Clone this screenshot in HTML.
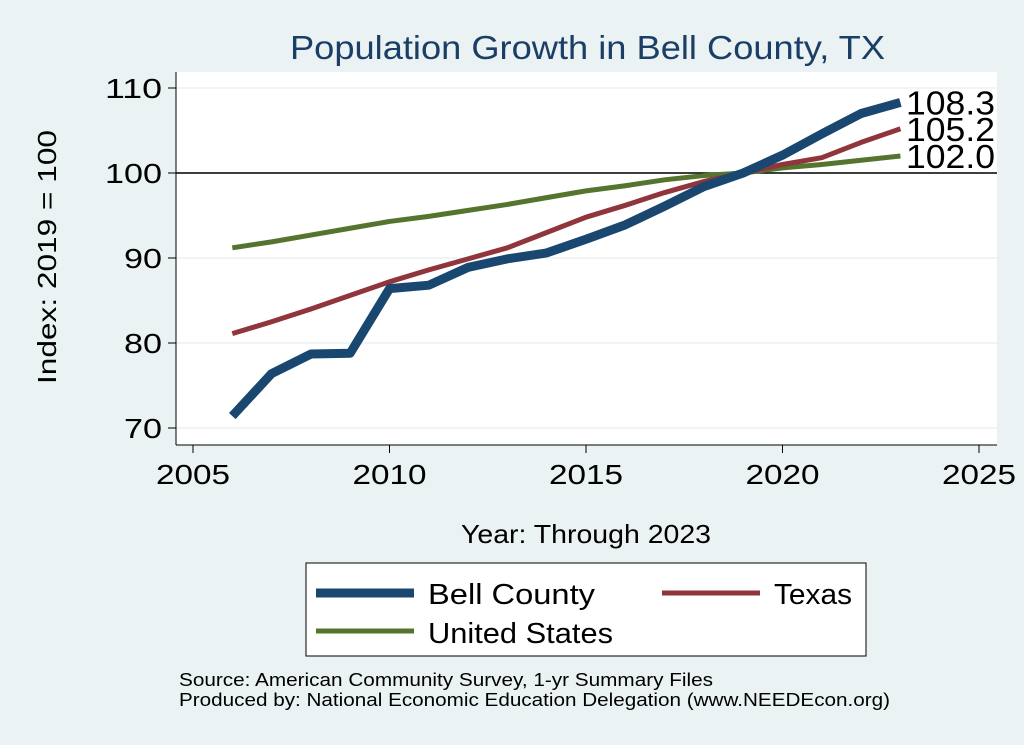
<!DOCTYPE html>
<html><head><meta charset="utf-8"><style>
html,body{margin:0;padding:0;background:#eaf2f3;}
svg{display:block;font-family:"Liberation Sans",Arial,sans-serif;}
</style></head><body>
<svg id="chart" width="1024" height="745" viewBox="0 0 1024 745">
<rect x="0" y="0" width="1024" height="745" fill="#eaf2f3"/>
<text x="290" y="59" textLength="595" lengthAdjust="spacingAndGlyphs" font-size="33" fill="#1a3e66">Population Growth in Bell County, TX</text>
<rect x="176" y="72" width="821" height="373" fill="#ffffff"/>
<g id="grid"></g>
<g id="axes"></g>
<g id="series"></g>
<g id="labels"></g>
<text x="56" y="384" textLength="254" lengthAdjust="spacingAndGlyphs" font-size="26" fill="#000" transform="rotate(-90 56 384)">Index: 2019 = 100</text>
<text x="461" y="543" textLength="250" lengthAdjust="spacingAndGlyphs" font-size="26" fill="#000">Year: Through 2023</text>
<g>
<rect x="306" y="563" width="560" height="93" fill="#fff" stroke="#000" stroke-width="1"/>
<g><line x1="316" y1="593" x2="414" y2="593" stroke="#1a476f" stroke-width="9"/><text x="428" y="604" textLength="167" lengthAdjust="spacingAndGlyphs" font-size="29">Bell  County</text></g>
<g><line x1="662" y1="593" x2="760" y2="593" stroke="#90353b" stroke-width="5"/><text x="774" y="604" textLength="78" lengthAdjust="spacingAndGlyphs" font-size="29">Texas</text></g>
<g><line x1="316" y1="631" x2="414" y2="631" stroke="#55752f" stroke-width="5"/><text x="428" y="643" textLength="185" lengthAdjust="spacingAndGlyphs" font-size="29">United States</text></g>
</g>
<text x="179" y="686" textLength="534" lengthAdjust="spacingAndGlyphs" font-size="18">Source: American Community Survey, 1-yr Summary Files</text>
<text x="179" y="706" textLength="711" lengthAdjust="spacingAndGlyphs" font-size="18">Produced by: National Economic Education Delegation (www.NEEDEcon.org)</text>
</svg>
<script>
const years=[2006,2007,2008,2009,2010,2011,2012,2013,2014,2015,2016,2017,2018,2019,2020,2021,2022,2023];
const bellCounty=[71.4,76.4,78.7,78.8,86.4,86.8,88.9,89.9,90.6,92.2,93.9,96.1,98.4,100,102.1,104.6,107.0,108.3];
const texas=[81.1,82.5,84.0,85.6,87.2,88.6,89.9,91.2,93.0,94.8,96.2,97.7,99.0,100,101.0,101.8,103.6,105.2];
const unitedStates=[91.2,91.9,92.7,93.5,94.3,94.9,95.6,96.3,97.1,97.9,98.5,99.2,99.7,100,100.6,101.0,101.5,102.0];
const xTicks=[2005,2010,2015,2020,2025];
const yTicks=[70,80,90,100,110];
const NS="http://www.w3.org/2000/svg";
function xS(v){return 193+(v-2005)*(979-193)/20;}
function yS(v){return 428-(v-70)*(428-88)/40;}
function mk(tag,attrs,parent,text){const e=document.createElementNS(NS,tag);for(const k in attrs)e.setAttribute(k,attrs[k]);if(text!==undefined)e.textContent=text;parent.appendChild(e);return e;}
const grid=document.getElementById('grid'),axes=document.getElementById('axes'),series=document.getElementById('series'),labels=document.getElementById('labels');
yTicks.forEach(t=>{
  const g=mk('line',{x1:176,x2:997,y1:yS(t),y2:yS(t),stroke:'#eaf2f3','stroke-width':1.5},grid);
  
  
  const tk=mk('line',{x1:168,x2:176,y1:yS(t),y2:yS(t),stroke:'#000'},axes);
  
  
  const s=String(t);
  const lb=mk('text',{x:162,y:yS(t)+10,'text-anchor':'end','font-size':28,textLength:s.length*19,lengthAdjust:'spacingAndGlyphs'},axes,s);
  
  
});
xTicks.forEach(t=>{
  const tk=mk('line',{x1:xS(t),x2:xS(t),y1:445,y2:453,stroke:'#000'},axes);
  
  
  const lb=mk('text',{x:xS(t)-37,y:484,'font-size':28,textLength:74,lengthAdjust:'spacingAndGlyphs'},axes,String(t));
  
  
});
const ya=mk('line',{x1:176,x2:176,y1:72,y2:445,stroke:'#000'},axes);


const xa=mk('line',{x1:176,x2:997,y1:445,y2:445,stroke:'#000'},axes);


const ref=mk('line',{x1:176,x2:997,y1:yS(100),y2:yS(100),stroke:'#000','stroke-width':1.5},axes);


function draw(vals,color,w,name){
  const p=mk('polyline',{points:years.map((y,i)=>xS(y)+','+yS(vals[i])).join(' '),fill:'none',stroke:color,'stroke-width':w,'stroke-linejoin':'round'},series);
  
  
  const last=vals[vals.length-1];
  const t=mk('text',{x:906,y:yS(last)+12,'font-size':33,textLength:89,lengthAdjust:'spacingAndGlyphs'},labels,last.toFixed(1));
  
  
}
draw(unitedStates,'#55752f',5,'united-states-line');
draw(texas,'#90353b',5,'texas-line');
draw(bellCounty,'#1a476f',9,'bell-county-line');
</script>
</body></html>
